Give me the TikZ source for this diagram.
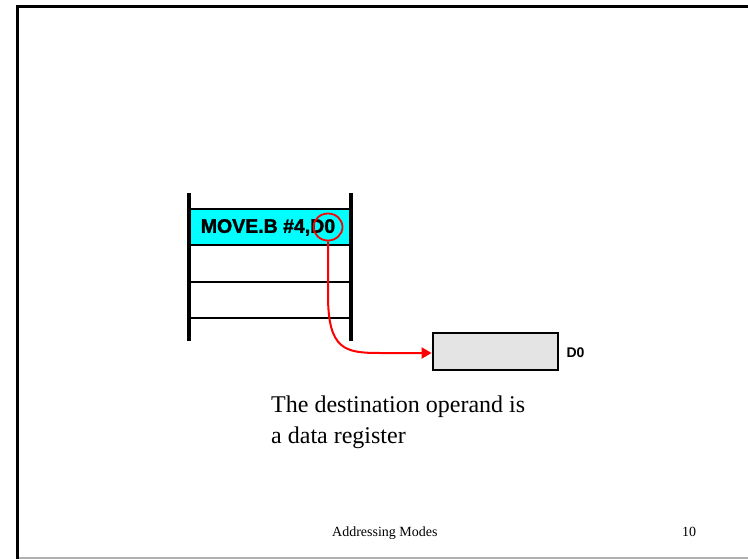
\documentclass[tikz,border=0pt]{standalone}
\usepackage{fontspec}
\setmainfont{Liberation Serif}
\newfontfamily\arialfont{Liberation Sans}
\newfontfamily\heavyfont[FakeBold=1.6]{Liberation Sans Bold}
\usetikzlibrary{arrows.meta,shapes.geometric}
\definecolor{regfill}{HTML}{E4E4E4}
\definecolor{rowcyan}{HTML}{00FFFF}
\definecolor{frameshade}{HTML}{B0B0B0}
\tikzset{
  memline/.style={line width=2.8pt, black},
  memside/.style={line width=3.2pt, black},
  pointer/.style={draw=red, line width=2pt},
  regbox/.style={draw=black, line width=2.8pt, fill=regfill, minimum width=125pt, minimum height=37pt, inner sep=0pt},
  caption/.style={anchor=base west, inner sep=0pt, font=\fontsize{24}{31}\selectfont},
  footnote/.style={anchor=base west, inner sep=0pt, font=\fontsize{14}{16}\selectfont},
}
\begin{document}
\begin{tikzpicture}[x=1pt, y=-1pt]
  \useasboundingbox (0,0) rectangle (748,559);
  % slide frame
  \draw[line width=3.5pt, line cap=rect] (17.5,558) -- (17.5,6.5) -- (748,6.5);
  \draw[frameshade, line width=1.2pt] (19,558) -- (748,558);

  % memory block with the highlighted instruction row
  \fill[rowcyan] (189,209) rectangle (351,245);
  \foreach \yy in {209,245,282,318}
    \draw[memline] (189,\yy) -- (351,\yy);
  \draw[memside] (189,193) -- (189,341);
  \draw[memside] (351,193) -- (351,341);
  \node[font=\heavyfont\fontsize{19.5}{22}\selectfont, anchor=center] (instr) at (268,227.5) {MOVE.B \#4,D0};

  % operand marker and data register
  \node[draw=red, line width=1.8pt, ellipse, minimum width=29pt, minimum height=27pt, inner sep=0pt] (mark) at (328,227) {};
  \node[regbox] (reg) at (495.5,351.5) {};
  \node[font=\arialfont\bfseries\fontsize{14}{16}\selectfont, anchor=west] (regname) at (563,353) {D0};

  \draw[pointer, -{Triangle[length=10pt, width=11pt]}]
    (mark.south) -- (328,295) .. controls (328,350) and (345,353) .. (380,353) -- (reg.west |- 0,353);

  % caption, two lines
  \node[caption] (caption1) at (271,412) {The destination operand is};
  \node[caption] (caption2) at (271,443) {a data register};

  % footer
  \node[footnote] (footer) at (332,536) {Addressing Modes};
  \node[footnote] (pageno) at (682,536) {10};
\end{tikzpicture}
\end{document}
